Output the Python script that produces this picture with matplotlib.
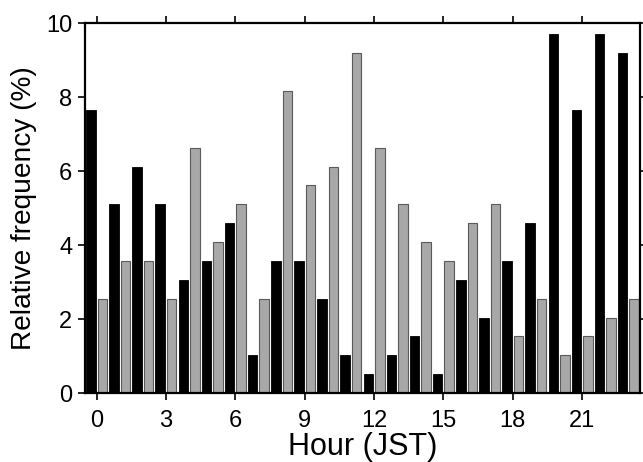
import matplotlib
matplotlib.use("Agg")
import matplotlib.pyplot as plt
import numpy as np

hours = list(range(24))
black_pct = [7.65, 5.10, 6.12, 5.10, 3.06, 3.57, 4.59, 1.02, 3.57, 3.57, 2.55, 1.02,
             0.51, 1.02, 1.53, 0.51, 3.06, 2.04, 3.57, 4.59, 9.69, 7.65, 9.69, 9.18]
gray_pct = [2.55, 3.57, 3.57, 2.55, 6.63, 4.08, 5.10, 2.55, 8.16, 5.61, 6.12, 9.18,
            6.63, 5.10, 4.08, 3.57, 4.59, 5.10, 1.53, 2.55, 1.02, 1.53, 2.04, 2.55]
xticks = [0, 3, 6, 9, 12, 15, 18, 21]
yticks = [0, 2, 4, 6, 8, 10]

plt.rcParams['font.family'] = ['Liberation Sans', 'DejaVu Sans']

fig = plt.figure(figsize=(6.43, 4.62), dpi=100)
ax = fig.add_axes([85/643, 1-393/462, (640-85)/643, (393-23)/462])

x = np.array(hours)
ax.bar(x - 0.25, black_pct, width=0.41, color='black', edgecolor='black', linewidth=0.6)
ax.bar(x + 0.25, gray_pct, width=0.41, color='#a8a8a8', edgecolor='#5a5a5a', linewidth=0.8)

ax.set_xlim(-0.5, 23.5)
ax.set_ylim(0, 10)
ax.set_xticks(xticks)
ax.set_yticks(yticks)
ax.tick_params(axis='both', direction='out', length=5, width=1.2, labelsize=17,
               top=True, right=True, labeltop=False, labelright=False)
ax.tick_params(axis='x', pad=7)
ax.tick_params(axis='y', pad=4)
for s in ax.spines.values():
    s.set_linewidth(1.6)
ax.set_xlabel('Hour (JST)', fontsize=22, labelpad=0.5)
ax.set_ylabel('Relative frequency (%)', fontsize=20.2, labelpad=7)

fig.savefig('out.png', dpi=100)
